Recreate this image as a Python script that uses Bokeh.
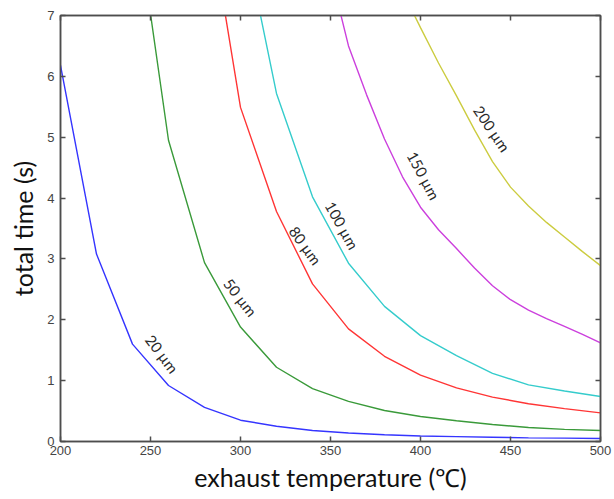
from bokeh.plotting import figure
from bokeh.models import LinearAxis, FixedTicker, ColumnDataSource
from bokeh.core.properties import value
from bokeh.embed import file_html
from bokeh.resources import INLINE

# ---- data ----
x_ticks = [200, 250, 300, 350, 400, 450, 500]
y_ticks = [0, 1, 2, 3, 4, 5, 6, 7]

d20_x = [200, 220, 240, 260, 280, 300, 320, 340, 360, 380, 400, 420, 440, 460, 480, 500]
d20_y = [6.18, 3.08, 1.60, 0.92, 0.56, 0.35, 0.25, 0.18, 0.14, 0.11, 0.09, 0.08, 0.07, 0.06, 0.055, 0.05]

d50_x = [240, 260, 280, 300, 320, 340, 360, 380, 400, 420, 440, 460, 480, 500]
d50_y = [9.1, 4.95, 2.94, 1.88, 1.22, 0.87, 0.66, 0.51, 0.41, 0.34, 0.28, 0.23, 0.20, 0.18]

d80_x = [280, 300, 320, 340, 360, 380, 400, 420, 440, 460, 480, 500]
d80_y = [9.1, 5.49, 3.78, 2.59, 1.85, 1.40, 1.09, 0.88, 0.73, 0.62, 0.54, 0.47]

d100_x = [300, 320, 340, 360, 380, 400, 420, 440, 460, 480, 500]
d100_y = [8.6, 5.72, 4.02, 2.93, 2.22, 1.74, 1.41, 1.12, 0.93, 0.83, 0.74]

d150_x = [350, 360, 370, 380, 390, 400, 410, 420, 430, 440, 450, 460, 470, 480, 490, 500]
d150_y = [7.7, 6.5, 5.7, 4.97, 4.35, 3.85, 3.48, 3.17, 2.85, 2.56, 2.33, 2.16, 2.02, 1.89, 1.76, 1.62]

d200_x = [390, 400, 410, 420, 430, 440, 450, 460, 470, 480, 490, 500]
d200_y = [7.4, 6.80, 6.22, 5.68, 5.12, 4.60, 4.18, 3.87, 3.60, 3.36, 3.12, 2.89]

series_x = [d20_x, d50_x, d80_x, d100_x, d150_x, d200_x]
series_y = [d20_y, d50_y, d80_y, d100_y, d150_y, d200_y]
colors = ["#3535ff", "#3a9a3a", "#ff3535", "#35cccc", "#cc40dd", "#cccc40"]

label_text = ["20 µm", "50 µm", "80 µm", "100 µm", "150 µm", "200 µm"]
label_x = [256.5, 300.0, 336.1, 356.5, 401.8, 439.8]
label_y = [1.44, 2.37, 3.22, 3.55, 4.37, 5.14]
label_angle = [-53, -52, -54, -61, -62, -56]

# ---- figure ----
p = figure(width=614, height=499, x_range=(200, 500), y_range=(0, 7),
           output_backend="svg", toolbar_location=None,
           min_border_left=60, min_border_right=14, min_border_top=15,
           min_border_bottom=58)
p.frame_width = 540
p.frame_height = 426
p.grid.visible = False
p.outline_line_color = "#4d4d4d"
p.outline_line_width = 1.5
p.background_fill_color = "white"
p.border_fill_color = "white"

for xs, ys, c in zip(series_x, series_y, colors):
    p.line(xs, ys, line_color=c, line_width=1.4)

src = ColumnDataSource(dict(x=label_x, y=label_y, t=label_text,
                            a=[v * 3.14159265 / 180 for v in label_angle]))
p.text(x="x", y="y", text="t", angle="a", source=src,
       text_font=value("Lato"), text_font_size="15px",
       text_color="#2a2a2a", text_align="center", text_baseline="middle")

def style_axis(ax, show_labels):
    ax.axis_line_color = "#4d4d4d"
    ax.axis_line_width = 1.5
    ax.major_tick_line_color = "#4d4d4d"
    ax.major_tick_line_width = 1.5
    ax.major_tick_in = 5
    ax.major_tick_out = 0
    ax.minor_tick_line_color = None
    if show_labels:
        ax.major_label_text_font = "Liberation Sans"
        ax.major_label_text_font_size = "13px"
        ax.major_label_text_color = "#444444"
    else:
        ax.major_label_text_font_size = "0px"
        ax.major_label_text_color = None
        ax.major_label_standoff = 0

xa = p.xaxis[0]
ya = p.yaxis[0]
xa.ticker = FixedTicker(ticks=x_ticks)
ya.ticker = FixedTicker(ticks=y_ticks)
style_axis(xa, True)
style_axis(ya, True)
xa.major_label_standoff = 4
ya.major_label_standoff = 6
xa.axis_label = "exhaust temperature (℃)"
ya.axis_label = "total time (s)"
for ax in (xa, ya):
    ax.axis_label_text_font = "Lato"
    ax.axis_label_text_font_size = "25px"
    ax.axis_label_text_font_style = "normal"
    ax.axis_label_text_color = "#111111"
xa.axis_label_standoff = 4
ya.axis_label_standoff = 6

top = LinearAxis(ticker=FixedTicker(ticks=x_ticks))
right = LinearAxis(ticker=FixedTicker(ticks=y_ticks))
style_axis(top, False)
style_axis(right, False)
p.add_layout(top, "above")
p.add_layout(right, "right")

open("out.html", "w").write(file_html(p, INLINE))
